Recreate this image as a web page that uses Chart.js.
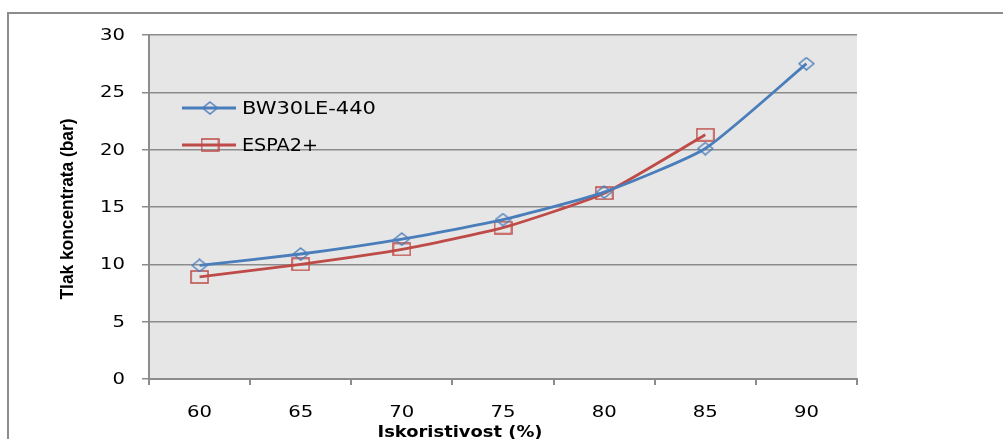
<!DOCTYPE html>
<html>
<head>
<meta charset="utf-8">
<script src="https://cdn.jsdelivr.net/npm/chart.js@4.4.1/dist/chart.umd.min.js"></script>
<style>
html,body{margin:0;padding:0;background:#fff;}
#wrap{width:1003px;height:439px;position:relative;}
</style>
</head>
<body>
<div id="wrap"><canvas id="c" width="1003" height="439"></canvas></div>
<script>
// ---- data ----
const categories = ['60','65','70','75','80','85','90'];
const bw30le440 = [9.9, 10.9, 12.2, 13.9, 16.3, 20.1, 27.5];
const espa2plus = [8.9, 10.0, 11.3, 13.2, 16.2, 21.3, null];
const yTicks = [0, 5, 10, 15, 20, 25, 30];
const seriesNames = ['BW30LE-440', 'ESPA2+'];
const xTitle = 'Iskoristivost (%)';
const yTitle = 'Tlak koncentrata (bar)';

const BLUE = '#4a7ebb';
const RED = '#be4b48';
const GRID = '#8c8c8c';
const STRETCH = 1.31;

function makeMarker(type, color) {
  const cv = document.createElement('canvas');
  if (type === 'diamond') {
    cv.width = 17; cv.height = 14;
    const g = cv.getContext('2d');
    g.strokeStyle = color; g.lineWidth = 1.4;
    g.beginPath();
    g.moveTo(8.5, 1); g.lineTo(16, 7); g.lineTo(8.5, 13); g.lineTo(1, 7); g.closePath();
    g.stroke();
  } else {
    cv.width = 19; cv.height = 14;
    const g = cv.getContext('2d');
    g.strokeStyle = color; g.lineWidth = 1.5;
    g.strokeRect(1, 1, 17, 12);
  }
  return cv;
}
const diamond = makeMarker('diamond', BLUE);
const square = makeMarker('square', RED);

function stretchedText(ctx, text, x, y, align, sx) {
  ctx.save();
  ctx.translate(x, y);
  ctx.scale(sx, 1);
  ctx.textAlign = align;
  ctx.fillText(text, 0, 0);
  ctx.restore();
}
function fitText(ctx, text, x, y, target, align) {
  const w = ctx.measureText(text).width;
  stretchedText(ctx, text, x, y, align || 'center', target / w);
}

const decor = {
  id: 'decor',
  beforeDraw(chart) {
    const {ctx, chartArea: a} = chart;
    ctx.save();
    ctx.fillStyle = '#e6e6e6';
    ctx.fillRect(a.left, a.top, a.right - a.left, a.bottom - a.top);
    ctx.strokeStyle = GRID;
    ctx.lineWidth = 2;
    ctx.beginPath();
    ctx.moveTo(8, 439); ctx.lineTo(8, 13); ctx.lineTo(1003, 13);
    ctx.stroke();
    ctx.restore();
  },
  afterDraw(chart) {
    const {ctx} = chart;
    const xs = chart.scales.x, ys = chart.scales.y;
    ctx.save();
    ctx.fillStyle = '#000';
    ctx.textBaseline = 'middle';
    ctx.font = '15px "DejaVu Sans"';
    yTicks.forEach(v => {
      stretchedText(ctx, String(v), 125, ys.getPixelForValue(v) + 1, 'right', STRETCH);
    });
    categories.forEach((c, i) => {
      stretchedText(ctx, c, xs.getPixelForTick(i), 413, 'center', STRETCH);
    });
    ctx.textBaseline = 'alphabetic';
    ctx.font = 'bold 15px "DejaVu Sans"';
    fitText(ctx, xTitle, 460, 437, 165);
    ctx.save();
    ctx.translate(73, 209);
    ctx.rotate(-Math.PI / 2);
    ctx.font = 'bold 19px "Liberation Sans Narrow", "Liberation Sans", sans-serif';
    fitText(ctx, yTitle, 0, 0, 181);
    ctx.restore();
    const items = [
      {name: seriesNames[0], color: BLUE, marker: diamond, y: 108, w: 134},
      {name: seriesNames[1], color: RED, marker: square, y: 145, w: 76}
    ];
    ctx.font = '17.5px "DejaVu Sans"';
    ctx.textBaseline = 'middle';
    items.forEach(it => {
      ctx.strokeStyle = it.color;
      ctx.lineWidth = 2.8;
      ctx.beginPath();
      ctx.moveTo(182, it.y); ctx.lineTo(236, it.y);
      ctx.stroke();
      ctx.drawImage(it.marker, 210 - it.marker.width / 2, it.y - it.marker.height / 2);
      ctx.fillStyle = '#000';
      fitText(ctx, it.name, 242, it.y + 1, it.w, 'left');
    });
    ctx.restore();
  }
};

new Chart(document.getElementById('c'), {
  type: 'line',
  data: {
    labels: categories,
    datasets: [
      {
        label: seriesNames[0],
        data: bw30le440,
        borderColor: BLUE,
        borderWidth: 2.8,
        tension: 0.18,
        pointStyle: diamond,
        pointRadius: 7,
        order: 1
      },
      {
        label: seriesNames[1],
        data: espa2plus,
        borderColor: RED,
        borderWidth: 2.8,
        tension: 0.18,
        pointStyle: square,
        pointRadius: 7,
        order: 2
      }
    ]
  },
  options: {
    responsive: false,
    animation: false,
    events: [],
    layout: {padding: {left: 0, top: 35, right: 146, bottom: 0}},
    plugins: {legend: {display: false}, tooltip: {enabled: false}},
    scales: {
      x: {
        type: 'category',
        offset: true,
        grid: {display: true, drawOnChartArea: false, drawTicks: true, tickLength: 6, color: GRID, lineWidth: 2, offset: true},
        border: {display: true, color: GRID, width: 2},
        ticks: {display: false},
        afterFit(s) { s.height = 60; }
      },
      y: {
        min: 0, max: 30,
        ticks: {display: false, stepSize: 5},
        grid: {color: GRID, lineWidth: 1.5, drawTicks: true, tickLength: 7},
        border: {display: true, color: GRID, width: 2},
        afterFit(s) { s.width = 149; }
      }
    }
  },
  plugins: [decor]
});
</script>
</body>
</html>
